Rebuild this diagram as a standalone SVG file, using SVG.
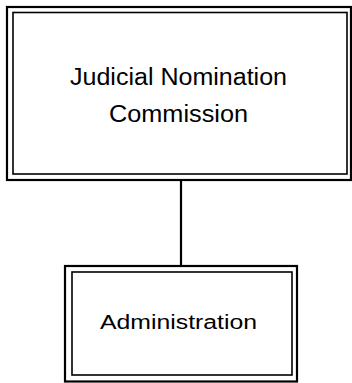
<svg xmlns="http://www.w3.org/2000/svg" width="352" height="383" viewBox="0 0 352 383">
<style>
.outer{fill:none;stroke:#000;stroke-width:2.2}
.inner{fill:none;stroke:#000;stroke-width:1.6}
.lbl{font-family:"Liberation Sans",Arial,sans-serif;fill:#000;text-anchor:middle}
.conn{stroke:#000;stroke-width:2.2;fill:none}
</style>
<rect width="352" height="383" fill="#fff"/>
<g id="connectors">
<line class="conn" x1="181" y1="180" x2="181" y2="266"/>
</g>
<g id="judicial-nomination-commission">
<rect class="outer" x="7" y="7" width="344" height="173"/>
<rect class="inner" x="13" y="12.5" width="334" height="161.5"/>
<text class="lbl" x="178.5" y="85" font-size="23" textLength="217" lengthAdjust="spacingAndGlyphs">Judicial Nomination</text>
<text class="lbl" x="178.5" y="122" font-size="23" textLength="139" lengthAdjust="spacingAndGlyphs">Commission</text>
</g>
<g id="administration">
<rect class="outer" x="65" y="266" width="232" height="115.5"/>
<rect class="inner" x="72" y="272" width="220" height="103"/>
<text class="lbl" x="178.5" y="328.5" font-size="20" textLength="157" lengthAdjust="spacingAndGlyphs">Administration</text>
</g>
</svg>
